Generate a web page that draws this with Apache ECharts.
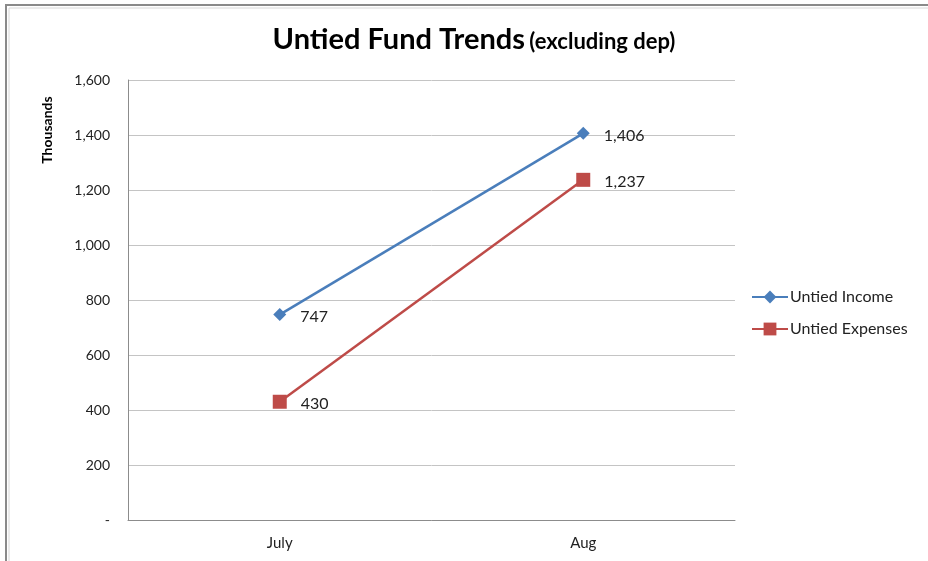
<!DOCTYPE html>
<html>
<head>
<meta charset="utf-8">
<script src="https://cdn.jsdelivr.net/npm/echarts@6/dist/echarts.min.js"></script>
<style>
  html, body { margin: 0; padding: 0; background: #fff; }
  #chart { width: 928px; height: 561px; }
</style>
</head>
<body>
<div id="chart"></div>
<script>
// values are in thousands
const months = ['July', 'Aug']
const untiedIncome = [747, 1406]
const untiedExpenses = [430, 1237]
const yTicks = [0, 200, 400, 600, 800, 1000, 1200, 1400, 1600]

const font = 'Lato, "Open Sans", sans-serif'

const chart = echarts.init(document.getElementById('chart'))

const fmt = v => v === 0 ? '-' : v.toLocaleString('en-US')

chart.setOption({
  animation: false,
  textStyle: { fontFamily: font },
  title: {
    text: '{a|Untied Fund Trends} {b|(excluding dep)}',
    left: 469,
    textAlign: 'center',
    top: 20,
    textStyle: {
      rich: {
        a: { fontSize: 29, fontWeight: 'bold', color: '#000', fontFamily: font },
        b: { fontSize: 22, fontWeight: 'bold', color: '#000', fontFamily: font, padding: [5, 0, 0, 0] }
      }
    }
  },
  graphic: [
    { type: 'rect', shape: { x: 6, y: 5, width: 930, height: 570 }, style: { fill: 'none', stroke: '#8a8a8a', lineWidth: 2 } },
    { type: 'line', shape: { x1: 9, y1: 8, x2: 928, y2: 8 }, style: { stroke: '#d8d8d8', lineWidth: 1 } },
    { type: 'line', shape: { x1: 9, y1: 8, x2: 9, y2: 561 }, style: { stroke: '#d8d8d8', lineWidth: 1 } },
    {
      type: 'text', x: 47, y: 130, rotation: Math.PI / 2,
      style: { text: 'Thousands', fontFamily: font, fontWeight: 'bold', fontSize: 14, fill: '#000', align: 'center', verticalAlign: 'middle' }
    }
  ],
  legend: {
    orient: 'vertical',
    left: 746,
    top: 284,
    itemGap: 16,
    itemWidth: 36,
    itemHeight: 16,
    textStyle: { fontSize: 16, color: '#222', fontFamily: font, padding: [0, 0, 0, -3] },
    data: ['Untied Income', 'Untied Expenses']
  },
  grid: { left: 128, right: 193, top: 80, bottom: 41, containLabel: false },
  xAxis: {
    type: 'category',
    data: months,
    boundaryGap: true,
    axisLine: { lineStyle: { color: '#8c8c8c', width: 1 } },
    axisTick: { show: false },
    axisLabel: { color: '#222', fontSize: 15, margin: 16 }
  },
  yAxis: {
    type: 'value',
    min: 0,
    max: 1600,
    interval: 200,
    axisLine: { show: true, lineStyle: { color: '#8c8c8c' } },
    axisTick: { show: false },
    axisLabel: { color: '#222', fontSize: 14, margin: 18, formatter: fmt, customValues: yTicks },
    splitLine: { lineStyle: { color: '#c4c4c4' } }
  },
  series: [
    {
      name: 'Untied Income',
      type: 'line',
      data: untiedIncome,
      symbol: 'diamond',
      symbolSize: 13,
      color: '#4a7ebb',
      lineStyle: { width: 2.5 },
      label: { show: true, position: 'right', distance: 14, offset: [0, 2], color: '#222', fontSize: 16, formatter: p => fmt(p.value) }
    },
    {
      name: 'Untied Expenses',
      type: 'line',
      data: untiedExpenses,
      symbol: 'rect',
      symbolSize: 14,
      color: '#be4b48',
      lineStyle: { width: 2.5 },
      label: { show: true, position: 'right', distance: 14, offset: [0, 2], color: '#222', fontSize: 16, formatter: p => fmt(p.value) }
    }
  ]
})
</script>
</body>
</html>
